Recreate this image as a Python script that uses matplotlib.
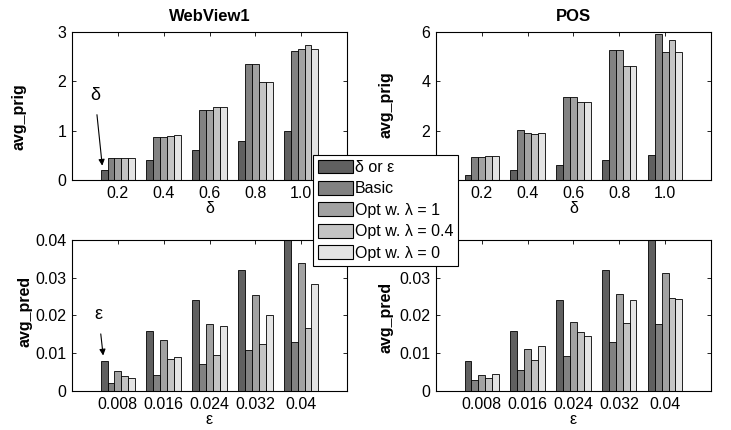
import matplotlib
matplotlib.use("Agg")
import matplotlib.pyplot as plt
from matplotlib.patches import Patch
import numpy as np

plt.rcParams['font.family'] = ['Liberation Sans', 'DejaVu Sans']
plt.rcParams['font.size'] = 10

# ---- data ----
delta_labels = ["0.2", "0.4", "0.6", "0.8", "1.0"]
eps_labels = ["0.008", "0.016", "0.024", "0.032", "0.04"]
series_names = ["δ or ε", "Basic", "Opt w. λ = 1", "Opt w. λ = 0.4", "Opt w. λ = 0"]

delta_vals = [0.2, 0.4, 0.6, 0.8, 1.0]
eps_vals = [0.008, 0.016, 0.024, 0.032, 0.04]

wv_prig_basic = [0.44, 0.87, 1.42, 2.36, 2.62]
wv_prig_opt1 = [0.44, 0.87, 1.42, 2.36, 2.66]
wv_prig_opt04 = [0.45, 0.89, 1.48, 1.98, 2.73]
wv_prig_opt0 = [0.45, 0.91, 1.48, 1.98, 2.66]

pos_prig_basic = [0.92, 2.03, 3.38, 5.28, 5.92]
pos_prig_opt1 = [0.92, 1.90, 3.38, 5.28, 5.18]
pos_prig_opt04 = [0.96, 1.88, 3.15, 4.62, 5.68]
pos_prig_opt0 = [0.96, 1.90, 3.15, 4.62, 5.18]

wv_pred_basic = [0.0020, 0.0042, 0.0072, 0.0108, 0.0130]
wv_pred_opt1 = [0.0052, 0.0134, 0.0178, 0.0253, 0.0340]
wv_pred_opt04 = [0.0041, 0.0084, 0.0096, 0.0125, 0.0167]
wv_pred_opt0 = [0.0034, 0.0089, 0.0172, 0.0201, 0.0283]

pos_pred_basic = [0.0028, 0.0055, 0.0092, 0.0130, 0.0177]
pos_pred_opt1 = [0.0042, 0.0110, 0.0182, 0.0256, 0.0312]
pos_pred_opt04 = [0.0034, 0.0081, 0.0156, 0.0180, 0.0246]
pos_pred_opt0 = [0.0045, 0.0120, 0.0146, 0.0241, 0.0244]

colors = ["#606060", "#828282", "#a2a2a2", "#c4c4c4", "#e4e4e4"]

fig = plt.figure(figsize=(7.31, 4.30), dpi=100)

W = 0.3762
axTL = fig.add_axes([0.0985, 0.5814, W, 0.3442])
axTR = fig.add_axes([0.5964, 0.5814, W, 0.3442])
axBL = fig.add_axes([0.0985, 0.0907, W, 0.3512])
axBR = fig.add_axes([0.5964, 0.0907, W, 0.3512])

x = np.arange(1, 6)
bw = 0.15
offsets = [-0.3, -0.15, 0.0, 0.15, 0.3]


def draw(ax, series, ylim, yticks, yticklabels, xlabels, xlab, ylab, ylab_xy,
         xlab_pad, title=None):
    for s, off, c in zip(series, offsets, colors):
        ax.bar(x + off, s, width=bw, color=c, edgecolor="black", linewidth=0.6, zorder=2)
    ax.set_xlim(0, 6)
    ax.set_ylim(*ylim)
    ax.set_yticks(yticks)
    ax.set_yticklabels(yticklabels)
    ax.set_xticks(x)
    ax.set_xticklabels(xlabels)
    ax.tick_params(direction="in", top=True, right=True, length=3, width=0.6,
                   labelsize=11.5, pad=4)
    for sp in ax.spines.values():
        sp.set_linewidth(0.8)
    ax.set_xlabel(xlab, fontsize=11.5, labelpad=xlab_pad)
    ax.set_ylabel(ylab, fontsize=11.5, fontweight="bold")
    ax.yaxis.set_label_coords(*ylab_xy)
    if title:
        ax.set_title(title, fontsize=12, fontweight="bold", pad=8)


draw(axTL, [delta_vals, wv_prig_basic, wv_prig_opt1, wv_prig_opt04, wv_prig_opt0],
     (0, 3), [0, 1, 2, 3], ["0", "1", "2", "3"], delta_labels, "δ", "avg_prig",
     (-0.164, 0.43), 0, "WebView1")
draw(axTR, [delta_vals, pos_prig_basic, pos_prig_opt1, pos_prig_opt04, pos_prig_opt0],
     (0, 6), [0, 2, 4, 6], ["0", "2", "4", "6"], delta_labels, "δ", "avg_prig",
     (-0.156, 0.51), 0, "POS")
draw(axBL, [eps_vals, wv_pred_basic, wv_pred_opt1, wv_pred_opt04, wv_pred_opt0],
     (0, 0.04), [0, 0.01, 0.02, 0.03, 0.04], ["0", "0.01", "0.02", "0.03", "0.04"],
     eps_labels, "ε", "avg_pred", (-0.145, 0.526), 0)
draw(axBR, [eps_vals, pos_pred_basic, pos_pred_opt1, pos_pred_opt04, pos_pred_opt0],
     (0, 0.04), [0, 0.01, 0.02, 0.03, 0.04], ["0", "0.01", "0.02", "0.03", "0.04"],
     eps_labels, "ε", "avg_pred", (-0.156, 0.49), 0)

axTL.annotate("δ", xy=(0.66, 0.29), xytext=(0.50, 1.72), fontsize=13,
              ha="center", va="center",
              arrowprops=dict(arrowstyle="-|>", color="black", lw=0.8,
                              mutation_scale=9, shrinkA=6, shrinkB=0))
axBL.annotate("ε", xy=(0.68, 0.0094), xytext=(0.58, 0.0203), fontsize=13,
              ha="center", va="center",
              arrowprops=dict(arrowstyle="-|>", color="black", lw=0.8,
                              mutation_scale=9, shrinkA=6, shrinkB=0))

handles = [Patch(facecolor=c, edgecolor="black", linewidth=0.8) for c in colors]
leg = fig.legend(handles, series_names, loc="upper left", bbox_to_anchor=(0.428, 0.640),
                 fontsize=11.5, frameon=True, fancybox=False, framealpha=1,
                 edgecolor="black", borderpad=0.3, labelspacing=0.38,
                 handlelength=2.2, handleheight=0.95, handletextpad=0.15,
                 borderaxespad=0)
leg.get_frame().set_linewidth(0.8)

fig.savefig("out.png", dpi=100)
